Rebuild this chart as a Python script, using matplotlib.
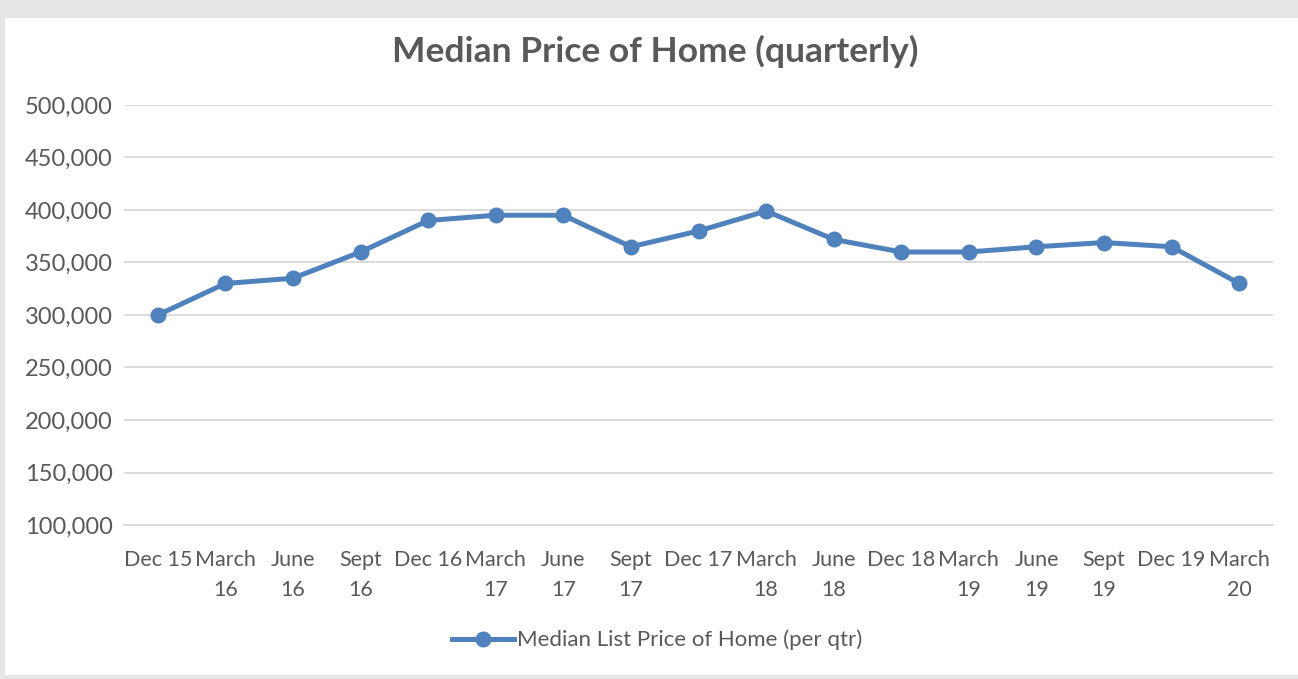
import matplotlib
matplotlib.use("Agg")
from matplotlib import pyplot as plt
from matplotlib.patches import Rectangle
from matplotlib.ticker import FuncFormatter

quarters = ["Dec 15", "March\n16", "June\n16", "Sept\n16", "Dec 16", "March\n17",
            "June\n17", "Sept\n17", "Dec 17", "March\n18", "June\n18", "Dec 18",
            "March\n19", "June\n19", "Sept\n19", "Dec 19", "March\n20"]
median_price = [300000, 330000, 335000, 360000, 390000, 395000, 395000, 365000,
                380000, 399000, 372000, 360000, 360000, 365000, 369000, 365000, 330000]
y_ticks = [100000, 150000, 200000, 250000, 300000, 350000, 400000, 450000, 500000]

plt.rcParams['font.family'] = ['Lato', 'DejaVu Sans']
txt = '#595959'
blue = '#4f81bd'

fig = plt.figure(figsize=(12.98, 6.79), dpi=100)
fig.patch.set_facecolor('#e6e6e6')
# white chart area
fig.patches.append(Rectangle((5 / 1298, 4 / 679), 1 - 5 / 1298, 1 - 22 / 679,
                             transform=fig.transFigure, facecolor='white',
                             edgecolor='none', zorder=-5))

ax = fig.add_axes([124 / 1298, 1 - 525 / 679, (1273 - 124) / 1298, 420 / 679])
ax.set_facecolor('none')

x = list(range(len(quarters)))
ax.plot(x, median_price, color=blue, linewidth=3.6, marker='o', markersize=10.5,
        label='Median List Price of Home (per qtr)', zorder=3, clip_on=False)

ax.set_xlim(-0.5, len(quarters) - 0.5)
ax.set_ylim(100000, 500000)
ax.set_yticks(y_ticks)
ax.yaxis.set_major_formatter(FuncFormatter(lambda v, p: f'{int(v):,}'))
ax.set_xticks(x)
ax.set_xticklabels(quarters, linespacing=1.6, fontsize=15.5)
ax.grid(axis='y', color='#d9d9d9', linewidth=1.3)
ax.set_axisbelow(True)
for s in ['top', 'right', 'left']:
    ax.spines[s].set_visible(False)
ax.spines['bottom'].set_color('#d9d9d9')
ax.spines['bottom'].set_linewidth(1.3)
ax.tick_params(axis='y', length=0, labelsize=17, colors=txt, pad=8)
ax.tick_params(axis='x', length=0, colors=txt, pad=18)

fig.text(655 / 1298, 1 - 51 / 679, 'Median Price of Home (quarterly)', ha='center',
         va='center', fontsize=25.5, fontweight='bold', color=txt)

leg = fig.legend(loc='center', bbox_to_anchor=(657 / 1298, 1 - 640 / 679),
                 frameon=False, fontsize=16, handlelength=2.8, handletextpad=0.1,
                 labelcolor=txt)

fig.savefig('out.png', dpi=100, facecolor=fig.get_facecolor())
